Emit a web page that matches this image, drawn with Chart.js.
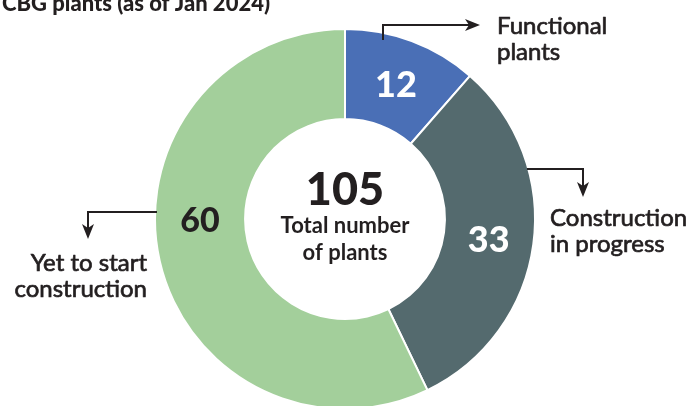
<!DOCTYPE html>
<html><head><meta charset="utf-8">
<script src="https://cdn.jsdelivr.net/npm/chart.js@4.4.1/dist/chart.umd.min.js"></script>
<style>html,body{margin:0;padding:0;background:#fff;overflow:hidden;width:691px;height:406px}
canvas{display:block}</style></head>
<body><canvas id="c" width="691" height="406"></canvas>
<script>
// ---- data ----
const title = 'CBG plants (as of Jan 2024)';
const categories = ['Functional plants', 'Construction in progress', 'Yet to start construction'];
const labelLines = [['Functional', 'plants'], ['Construction', 'in progress'], ['Yet to start', 'construction']];
const values = [12, 33, 60];
const centerCaption = ['Total number', 'of plants'];

// ---- styles / positions ----
const colors = ['#4a6fb6', '#546a6e', '#a3cf9b'];
const valueColors = ['#ffffff', '#ffffff', '#231f20'];
const valueFontSizes = [36, 36, 34];
const valueLabelAngles = [null, null, 270]; // degrees clockwise from top; null = arc centre
const ink = '#231f20';
const FONT = 'Lato, "Open Sans", "DejaVu Sans", sans-serif';
const connectors = [
  { path: [[383, 40], [383, 25], [480, 25]] },
  { path: [[527, 169], [583, 169], [583, 197]] },
  { path: [[157, 212], [88, 212], [88, 239]] }
];
const labelPos = [
  { x: 497, y: 34, align: 'left' },
  { x: 550, y: 226, align: 'left' },
  { x: 147, y: 271, align: 'right' }
];
const lineH = 26;

function arrow(ctx, pts) {
  const n = pts.length;
  const [tx, ty] = pts[n - 1];
  const [px, py] = pts[n - 2];
  const len = Math.hypot(tx - px, ty - py);
  const ux = (tx - px) / len, uy = (ty - py) / len;
  const head = 15, half = 6, notch = 4;
  ctx.beginPath();
  ctx.moveTo(pts[0][0], pts[0][1]);
  for (let i = 1; i < n - 1; i++) ctx.lineTo(pts[i][0], pts[i][1]);
  ctx.lineTo(tx - ux * (head - notch), ty - uy * (head - notch));
  ctx.stroke();
  const bx = tx - ux * head, by = ty - uy * head;
  ctx.beginPath();
  ctx.moveTo(tx, ty);
  ctx.lineTo(bx - uy * half, by + ux * half);
  ctx.lineTo(tx - ux * (head - notch), ty - uy * (head - notch));
  ctx.lineTo(bx + uy * half, by - ux * half);
  ctx.closePath();
  ctx.fill();
}

const overlay = {
  id: 'overlay',
  afterDraw(chart) {
    const ctx = chart.ctx;
    const meta = chart.getDatasetMeta(0);
    ctx.save();
    // title
    ctx.fillStyle = ink;
    ctx.font = '900 22px ' + FONT;
    ctx.textAlign = 'left';
    ctx.textBaseline = 'alphabetic';
    ctx.fillText(title, 2, 11);

    // value labels
    meta.data.forEach((arc, i) => {
      const p = arc.getProps(['x', 'y', 'startAngle', 'endAngle', 'innerRadius', 'outerRadius'], true);
      const r = (p.innerRadius + p.outerRadius) / 2;
      let a = (p.startAngle + p.endAngle) / 2;
      if (valueLabelAngles[i] !== null) a = valueLabelAngles[i] * Math.PI / 180 - Math.PI / 2;
      ctx.fillStyle = valueColors[i];
      ctx.font = '900 ' + valueFontSizes[i] + 'px ' + FONT;
      ctx.textAlign = 'center';
      ctx.textBaseline = 'middle';
      ctx.fillText(String(values[i]), p.x + r * Math.cos(a), p.y + r * Math.sin(a) + 2);
    });

    // centre total
    const c = meta.data[0];
    const total = values.reduce((s, v) => s + v, 0);
    ctx.fillStyle = ink;
    ctx.textAlign = 'center';
    ctx.textBaseline = 'alphabetic';
    ctx.font = '900 45px ' + FONT;
    ctx.fillText(String(total), c.x, c.y - 14);
    ctx.font = 'bold 22px ' + FONT;
    ctx.fillText(centerCaption[0], c.x, c.y + 14);
    ctx.fillText(centerCaption[1], c.x, c.y + 41);

    // connectors + category labels
    ctx.strokeStyle = ink;
    ctx.fillStyle = ink;
    ctx.lineWidth = 2;
    connectors.forEach(cn => arrow(ctx, cn.path));
    ctx.font = '24px ' + FONT;
    ctx.lineWidth = 0.7;
    ctx.lineJoin = 'round';
    labelLines.forEach((lines, i) => {
      ctx.textAlign = labelPos[i].align;
      lines.forEach((t, j) => {
        ctx.fillText(t, labelPos[i].x, labelPos[i].y + j * lineH);
        ctx.strokeText(t, labelPos[i].x, labelPos[i].y + j * lineH);
      });
    });
    ctx.restore();
  }
};

new Chart(document.getElementById('c'), {
  type: 'doughnut',
  data: {
    labels: categories,
    datasets: [{
      data: values,
      backgroundColor: colors,
      borderColor: '#ffffff',
      borderWidth: 2,
      radius: 190,
      cutout: '52.6%',
      clip: false
    }]
  },
  options: {
    responsive: false,
    animation: false,
    events: [],
    layout: { padding: { top: 32, bottom: 0, left: 0, right: 1 } },
    plugins: { legend: { display: false }, tooltip: { enabled: false } }
  },
  plugins: [overlay]
});
</script>
</body></html>
